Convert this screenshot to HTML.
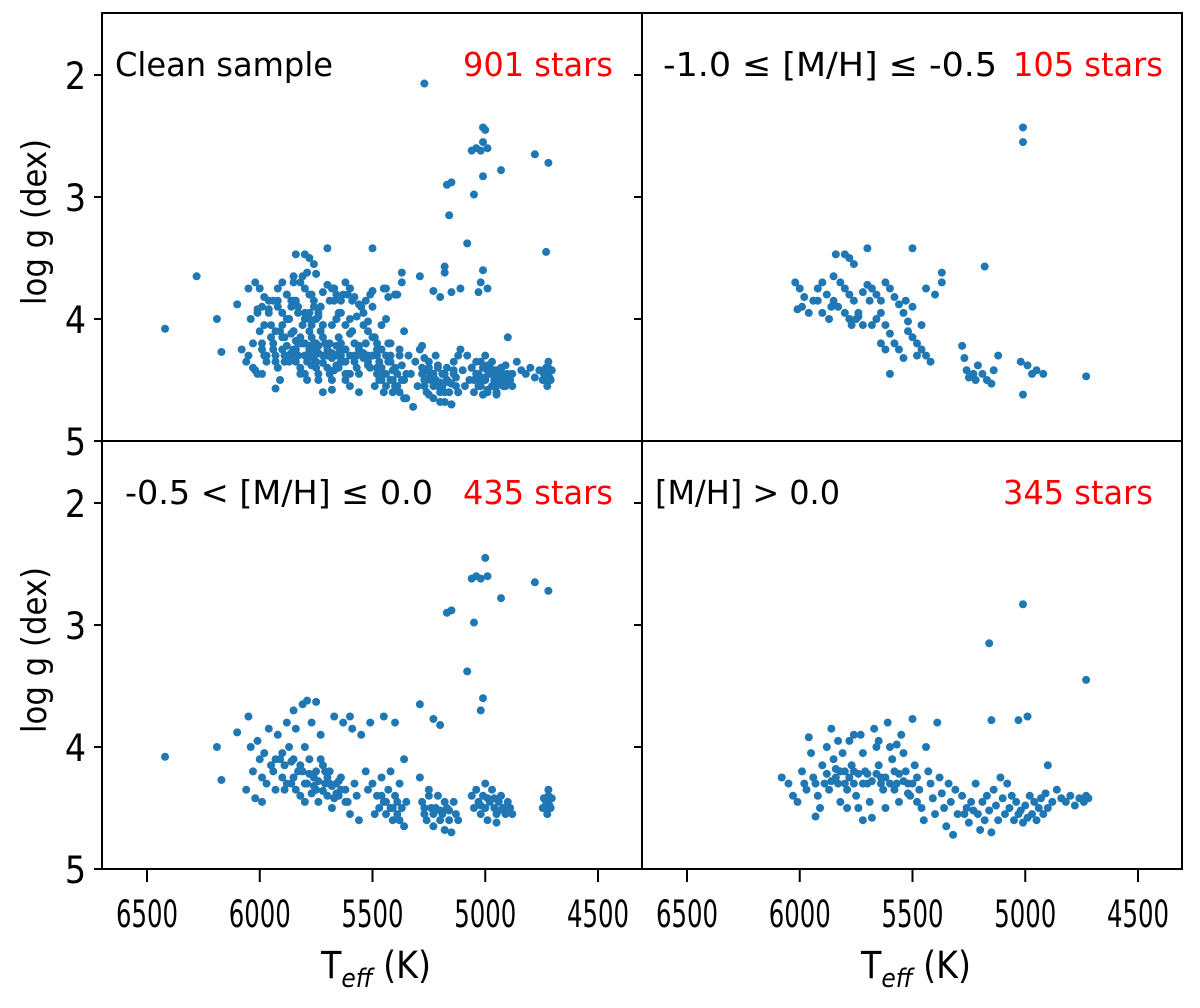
<!DOCTYPE html>
<html><head><meta charset="utf-8"><style>
body{margin:0;background:#fff}
svg text{font-family:"DejaVu Sans Condensed","DejaVu Sans","Liberation Sans",sans-serif}
</style></head><body>
<svg id="chart" width="1200" height="1003" viewBox="0 0 1200 1003" xmlns="http://www.w3.org/2000/svg">
<rect width="1200" height="1003" fill="#fff"/>
<g id="marks"></g>
<g id="frame"></g>
</svg>
<script>
const xTicks=[6500,6000,5500,5000,4500];
const yTicks=[2,3,4,5];
const panelTitles=["Clean sample","-1.0 \u2264 [M/H] \u2264 -0.5","-0.5 < [M/H] \u2264 0.0","[M/H] > 0.0"];
const panelCounts=["901 stars","105 stars","435 stars","345 stars"];
const metalPoor=[[5010,2.43],[5010,2.55],[6020,3.7],[6000,3.75],[5980,3.82],[5990,3.9],[6010,3.92],[5960,3.95],[5940,3.85],[5920,3.75],[5900,3.7],[5880,3.8],[5860,3.9],[5840,3.47],[5800,3.47],[5780,3.5],[5760,3.55],[5850,3.65],[5820,3.7],[5800,3.75],[5780,3.8],[5760,3.85],[5740,3.95],[5720,4.05],[5700,3.72],[5680,3.75],[5660,3.8],[5640,3.85],[5620,3.7],[5600,3.75],[5580,3.82],[5560,3.88],[5540,3.95],[5520,4.02],[5700,3.42],[5500,3.42],[5640,3.95],[5620,4.05],[5600,4.12],[5580,4.2],[5560,4.25],[5540,4.32],[5520,4.1],[5500,4.15],[5480,4.2],[5460,4.25],[5440,4.3],[5420,4.35],[5440,3.75],[5400,3.8],[5370,3.62],[5370,3.7],[5640,4.2],[5620,4.25],[5600,4.45],[5750,4.0],[5770,4.05],[5740,3.98],[5720,3.78],[5690,3.85],[5180,3.57],[5280,4.22],[5270,4.32],[5260,4.42],[5250,4.48],[5230,4.45],[5220,4.5],[5210,4.38],[5190,4.45],[5170,4.5],[5150,4.53],[5140,4.42],[5120,4.3],[5020,4.35],[4990,4.38],[4970,4.45],[4950,4.42],[4920,4.45],[5010,4.62],[4730,4.47],[5460,4.05],[5480,4.3],[5500,3.9],[5530,3.85],[5660,4.0],[5680,4.05],[5780,4.0],[5800,3.95],[5830,3.9],[5920,3.85],[5900,3.95],[5870,4.0],[5850,3.85]];
const solarLow=[[6420,4.08],[5000,2.45],[4990,2.6],[5020,2.62],[5040,2.6],[5060,2.62],[4930,2.78],[4780,2.65],[4720,2.72],[5150,2.88],[5170,2.9],[5050,2.98],[5080,3.38],[5010,3.6],[5020,3.7],[5290,3.65],[5200,3.82],[5230,3.77],[6190,4.0],[6170,4.27],[6100,3.88],
[6060,4.35],[6050,3.75],[6040,4.0],[6030,4.2],[6020,4.42],[6010,3.95],[6000,4.1],[5990,4.25],[5980,4.05],[5970,4.3],[5960,3.85],[5950,4.15],[5940,4.2],[5930,4.35],[5920,3.9],[5910,4.1],[5900,4.25],[5890,4.15],[5880,3.8],[5870,4.0],[5860,4.3],[5850,4.1],[5840,3.85],[5830,4.2],[5820,4.4],[5810,3.65],[5800,4.0],[5790,4.3],[5780,4.1],[5770,3.8],[5760,4.25],[5750,4.35],[5740,4.45],[5730,3.9],[5720,4.15],[5710,4.3],[5700,4.4],[5690,4.2],[5680,4.5],[5670,3.75],[5660,4.3],[5650,4.4],[5640,4.25],[5630,3.8],[5620,4.35],[5610,4.45],[5600,4.55],[5590,3.85],[5580,4.3],[5570,4.4],[5560,4.6],[5550,3.9],[5530,4.2],[5520,4.35],[5510,3.8],[5500,4.3],[5790,3.62],[5750,3.63],[5850,3.7],[5800,4.45],[5850,4.25],[5770,4.38],[5710,4.2],[5650,4.28],[5880,4.3],[5930,4.1],[5990,4.45],[5600,3.75],[5450,3.75],[5400,3.8],
[5820,4.15],[5780,4.22],[5760,4.32],[5740,4.28],[5720,4.36],[5700,4.25],[5680,4.32],[5660,4.38],[5800,4.3],[5840,4.35],[5860,4.12],[5890,4.35],[5900,4.05],[5810,4.2],[5750,4.2],[5730,4.1],[5690,4.3],[5670,4.42],[5640,4.35],[5620,4.45],
[5480,4.4],[5470,4.5],[5460,4.25],[5450,4.45],[5440,4.55],[5430,4.35],[5420,4.5],[5410,4.6],[5400,4.4],[5390,4.55],[5380,4.3],[5370,4.5],[5360,4.65],[5350,4.45],[5490,4.55],[5420,4.2],[5380,4.6],[5360,4.1],[5460,4.4],[5440,4.45],[5410,4.5],[5390,4.45],
[5290,4.25],[5280,4.45],[5270,4.55],[5260,4.6],[5250,4.4],[5240,4.5],[5230,4.65],[5220,4.5],[5210,4.4],[5200,4.6],[5190,4.55],[5180,4.68],[5170,4.5],[5160,4.6],[5150,4.7],[5140,4.45],[5130,4.55],[5120,4.6],[5250,4.35],[5180,4.45],[5270,4.5],[5230,4.55],[5200,4.52],[5160,4.52],
[5060,4.4],[5050,4.5],[5040,4.35],[5030,4.45],[5020,4.55],[5010,4.4],[5000,4.5],[4990,4.6],[4980,4.45],[4970,4.35],[4960,4.5],[4950,4.55],[4940,4.45],[4930,4.4],[4920,4.5],[4910,4.55],[4900,4.45],[4890,4.5],[4880,4.55],[5000,4.3],[4950,4.62],[5020,4.48],[4990,4.42],[4960,4.42],[4940,4.52],
[4740,4.42],[4735,4.5],[4730,4.45],[4725,4.55],[4720,4.4],[4715,4.48],[4710,4.5],[4705,4.42],[4745,4.5],[4720,4.35]];
const metalRich=[[5010,2.83],[5160,3.15],[4730,3.45],[4990,3.75],[5150,3.78],[5030,3.78],[4900,4.15],
[5990,4.2],[5980,4.3],[5970,4.35],[5960,3.92],[5950,4.05],[5940,4.25],[5930,4.3],[5920,4.4],[5900,4.15],[5890,4.3],[5880,4.22],[5870,4.35],[5860,3.85],[5850,4.1],[5840,4.25],[5830,4.3],[5820,4.45],[5810,4.05],[5800,4.2],[5790,4.35],[5780,3.95],[5770,4.15],[5760,4.3],[5750,4.4],[5740,4.5],[5730,3.9],[5720,4.05],[5710,4.2],[5700,4.3],[5690,4.45],[5680,4.58],[5670,3.85],[5660,4.0],[5650,4.15],[5640,4.25],[5630,4.35],[5620,4.5],[5610,3.8],[5600,4.0],[5590,4.1],[5580,4.2],[5570,4.3],[5560,4.45],[5550,3.9],[5540,4.05],[5530,4.2],[5520,4.3],[5510,4.4],[5500,3.77],[5490,4.15],[5480,4.25],[5470,4.35],[5460,4.5],[5450,4.6],[5440,4.0],[5430,4.2],[5420,4.3],[5410,4.42],[5400,4.55],[5390,3.8],[5380,4.25],[5370,4.38],[5360,4.5],[5350,4.65],[5340,4.3],[5330,4.45],[5320,4.72],[5310,4.35],[5300,4.55],[5880,4.0],[5790,4.5],[5720,4.6],[5650,3.95],[5570,3.98],[5760,3.9],[5830,3.95],[5910,4.5],[6050,4.3],[6030,4.4],[6010,4.45],[6080,4.25],[5930,4.57],
[5780,4.25],[5760,4.2],[5740,4.22],[5720,4.3],[5700,4.22],[5680,4.28],[5660,4.22],[5640,4.3],[5620,4.25],[5600,4.3],[5820,4.2],[5840,4.18],[5860,4.28],[5800,4.3],[5580,4.35],[5560,4.22],[5540,4.28],[5520,4.38],[5500,4.3],[5480,4.45],
[5280,4.4],[5270,4.55],[5260,4.5],[5250,4.62],[5240,4.45],[5220,4.3],[5210,4.55],[5200,4.68],[5190,4.45],[5180,4.6],[5170,4.4],[5160,4.52],[5150,4.7],[5140,4.35],[5130,4.48],[5120,4.6],[5100,4.42],[5090,4.55],[5080,4.3],[5070,4.5],[5050,4.6],[5040,4.45],[5030,4.55],[5020,4.52],[5010,4.62],[5000,4.48],[4990,4.58],[4980,4.4],[4970,4.55],[4960,4.45],[4950,4.6],[4940,4.5],[4930,4.42],[4920,4.55],[4910,4.38],[4900,4.5],[4880,4.45],[4860,4.35],[4840,4.42],[4820,4.45],[4800,4.4],[4780,4.48],[4760,4.42],[4740,4.45],[4730,4.4],[4720,4.42],[5230,4.52],[5110,4.25],[5060,4.4]];
const cleanExtra=[[5270,2.07],[5430,3.82],[5180,3.62],[5110,3.75],[6280,3.65]];
const panelData=[metalPoor.concat(solarLow,metalRich,cleanExtra),metalPoor,solarLow,metalRich];

const NS="http://www.w3.org/2000/svg";
const marks=document.getElementById('marks'),frame=document.getElementById('frame');
const panels=[{x0:102,y0:13},{x0:642,y0:13},{x0:102,y0:441},{x0:642,y0:441}];
const W=540,H=428;
function xScale(p,t){return p.x0+45+(6500-t)*0.2255;}
function yScale(p,g){return p.y0+62+(g-2)*122;}
function mk(tag,attrs,parent){const e=document.createElementNS(NS,tag);for(const k in attrs)e.setAttribute(k,attrs[k]);parent.appendChild(e);return e;}
panels.forEach((p,i)=>{
  panelData[i].forEach(d=>{
    const c=mk('circle',{cx:xScale(p,d[0]),cy:yScale(p,d[1]),r:4,fill:'#1f77b4'},marks);
    
    
  });
  const r=mk('rect',{x:p.x0,y:p.y0,width:W,height:H,fill:'none',stroke:'#000','stroke-width':2},frame);
  
  
  yTicks.forEach(v=>{
    const y=yScale(p,v);
    mk('line',{x1:p.x0-8,y1:y,x2:p.x0,y2:y,stroke:'#000','stroke-width':2},frame);
    if(i%2===0){const t=mk('text',{x:p.x0-16,y:y+14,'font-size':37,'text-anchor':'end'},frame);t.textContent=v;
      
      }
  });
  if(i>=2){
    xTicks.forEach(v=>{
      const x=xScale(p,v);
      mk('line',{x1:x,y1:p.y0+H,x2:x,y2:p.y0+H+13,stroke:'#000','stroke-width':2},frame);
      const t=mk('text',{x:x,y:p.y0+H+58,'font-size':37,'text-anchor':'middle',textLength:62,lengthAdjust:'spacingAndGlyphs'},frame);t.textContent=v;
      
      
    });
    const xl=mk('text',{x:p.x0+W/2+4,y:978,'font-size':37,'text-anchor':'middle'},frame);
    xl.innerHTML='T<tspan font-size="26" font-style="italic" dy="9">eff</tspan><tspan dy="-9"> (K)</tspan>';
    
    
  }
  if(i%2===0){
    const yl=mk('text',{x:0,y:0,'font-size':34,'text-anchor':'middle',transform:`translate(46,${p.y0+H/2-5}) rotate(-90)`,textLength:166,lengthAdjust:'spacingAndGlyphs'},frame);
    yl.textContent='log g (dex)';
    
    
  }
  const tx=[115,663,125,655][i];
  const tw=[218,334,308,185][i];
  const tt=mk('text',{x:tx,y:p.y0+63,'font-size':33,textLength:tw,lengthAdjust:'spacingAndGlyphs'},frame);tt.textContent=panelTitles[i];
  
  
  const cx=[463,1013,463,1003][i];
  const tc=mk('text',{x:cx,y:p.y0+63,'font-size':33,fill:'#ff0000',textLength:150,lengthAdjust:'spacingAndGlyphs'},frame);tc.textContent=panelCounts[i];
  
  
});
</script>
</body></html>
